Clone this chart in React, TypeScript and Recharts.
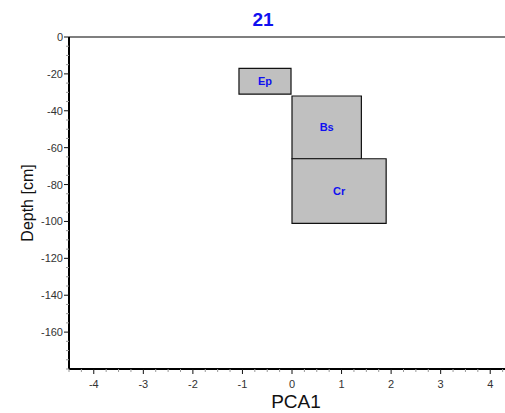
import { ComposedChart, XAxis, YAxis, ReferenceArea, ReferenceLine, Scatter } from "recharts";

const FONT = "'Liberation Sans', Arial, sans-serif";

// soil horizons of profile 21
const horizons = ["Ep", "Bs", "Cr"];
const pcaFrom = [-1.07, 0, 0];
const pcaTo = [-0.02, 1.4, 1.9];
const depthTop = [-17, -32, -66];
const depthBottom = [-31, -66, -101];

const xLabels = [-4, -3, -2, -1, 0, 1, 2, 3, 4];
const yLabels = [0, -20, -40, -60, -80, -100, -120, -140, -160];

// minor ticks every 0.25 on PCA1, every 5 cm on depth
const xTicks = Array.from({ length: 37 }, (_, i) => -4.5 + i * 0.25);
const yTicks = Array.from({ length: 37 }, (_, i) => -i * 5);

// box centres, only so the chart has a series to lay its axes out for
const centres = horizons.map((name, i) => ({
  name,
  x: (pcaFrom[i] + pcaTo[i]) / 2,
  y: (depthTop[i] + depthBottom[i]) / 2,
}));

function XTick({ x, y, payload }: any) {
  const v = payload.value;
  const major = xLabels.includes(v);
  return (
    <g>
      <line x1={x} x2={x} y1={y} y2={y + (major ? 5 : 3)} stroke={major ? "#111" : "#999"} strokeWidth={1} />
      {major && (
        <text x={x} y={y + 19} textAnchor="middle" fontSize={11} fill="#333" fontFamily={FONT}>
          {v}
        </text>
      )}
    </g>
  );
}

function YTick({ x, y, payload }: any) {
  const v = payload.value;
  const major = yLabels.includes(v);
  return (
    <g>
      <line x1={x} x2={x - (major ? 5 : 3)} y1={y} y2={y} stroke={major ? "#111" : "#999"} strokeWidth={1} />
      {major && (
        <text x={x - 6} y={y + 4} textAnchor="end" fontSize={11} fill="#333" fontFamily={FONT}>
          {v}
        </text>
      )}
    </g>
  );
}

export default function App() {
  return (
    <div
      style={{
        position: "fixed",
        left: 0,
        top: 0,
        width: 505,
        height: 413,
        overflow: "hidden",
        background: "#fff",
        fontFamily: FONT,
      }}
    >
      <div
        style={{
          position: "absolute",
          left: 263,
          top: 10,
          transform: "translateX(-50%)",
          color: "#1010f0",
          fontWeight: "bold",
          fontSize: 19,
          lineHeight: "20px",
        }}
      >
        21
      </div>
      <ComposedChart width={540} height={413} margin={{ top: 37, right: 25, bottom: 0, left: 0 }}>
        <XAxis
          type="number"
          dataKey="x"
          domain={[-4.5, 4.5]}
          ticks={xTicks}
          interval={0}
          height={44}
          tickSize={0}
          tickMargin={0}
          tickLine={false}
          tick={<XTick />}
          axisLine={{ stroke: "#000", strokeWidth: 2 }}
          label={{ value: "PCA1", position: "insideBottom", offset: 5, dx: 4, fontSize: 19, fill: "#111", fontFamily: FONT }}
        />
        <YAxis
          type="number"
          dataKey="y"
          domain={[-180, 0]}
          ticks={yTicks}
          interval={0}
          width={69}
          tickSize={0}
          tickMargin={0}
          tickLine={false}
          tick={<YTick />}
          axisLine={{ stroke: "#000", strokeWidth: 2 }}
          label={{
            value: "Depth [cm]",
            angle: -90,
            position: "insideLeft",
            offset: 27,
            fontSize: 16,
            fill: "#111",
            fontFamily: FONT,
            style: { textAnchor: "middle" },
          }}
        />
        <ReferenceLine y={0} stroke="#555" strokeWidth={1.5} />
        <Scatter data={centres} dataKey="y" shape={() => <g />} isAnimationActive={false} />
        {horizons.map((name, i) => (
          <ReferenceArea
            key={name}
            x1={pcaFrom[i]}
            x2={pcaTo[i]}
            y1={depthTop[i]}
            y2={depthBottom[i]}
            fill="#c0c0c0"
            fillOpacity={1}
            stroke="#111"
            strokeWidth={1.2}
            label={{ value: name, position: "center", fill: "#1010f0", fontSize: 11, fontWeight: "bold", fontFamily: FONT }}
          />
        ))}
      </ComposedChart>
    </div>
  );
}
